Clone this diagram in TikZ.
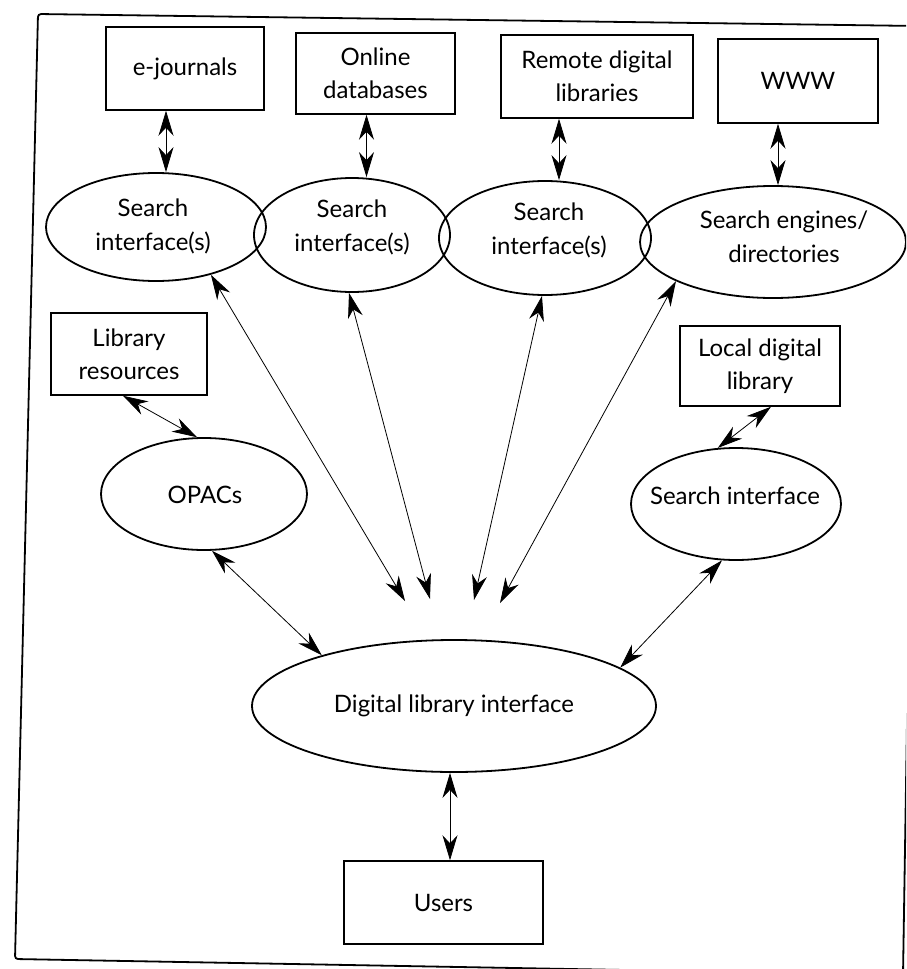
\documentclass[tikz,border=0pt]{standalone}
\usepackage{fontspec}
\setmainfont{Lato}
\usetikzlibrary{shapes.geometric,arrows.meta}
\begin{document}
\begin{tikzpicture}[x=1pt,y=-1pt,
  box/.style={draw, line width=1.5pt, rectangle, inner sep=0pt, align=center,
    font=\fontsize{24}{33}\selectfont},
  oval/.style={draw, line width=1.8pt, ellipse, inner sep=0pt},
  txt/.style={align=center, inner sep=0pt, font=\fontsize{24}{34}\selectfont},
  link/.style={line width=0.8pt, >={Stealth[length=25pt,width=15pt,inset=8pt]}, <->},
  frame/.style={line width=1.8pt, rounded corners=3pt}
]
\useasboundingbox (0,0) rectangle (906,969);
\fill[white] (0,0) rectangle (906,969);
\clip (0,0) rectangle (906,969);

% outer frame
\draw[frame] (38,14) -- (918,26) -- (903,975) -- (15,959) -- cycle;

% sources
\node[box, minimum width=158pt, minimum height=83pt] (ej) at (185,68.5) {e-journals};
\node[box, minimum width=159pt, minimum height=81pt] (odb) at (375.5,73.5) {Online\\databases};
\node[box, minimum width=192pt, minimum height=83pt] (rdl) at (597,76.5) {Remote digital\\libraries};
\node[box, minimum width=160pt, minimum height=84pt] (www) at (798,81) {WWW};
\node[box, minimum width=156pt, minimum height=82pt] (libres) at (129,354) {Library\\resources};
\node[box, minimum width=160pt, minimum height=80pt] (local) at (760,366) {Local digital\\library};
\node[box, minimum width=199pt, minimum height=83pt] (users) at (443.5,902.5) {Users};

% interfaces
\node[oval, minimum width=220pt, minimum height=108pt] (si1) at (156,227) {};
\node[oval, minimum width=196pt, minimum height=114pt] (si2) at (352,235) {};
\node[oval, minimum width=212pt, minimum height=114pt] (si3) at (545,238) {};
\node[oval, minimum width=266pt, minimum height=112pt] (se4) at (773,242) {};
\node[oval, minimum width=206pt, minimum height=112pt] (opacs) at (204,494) {};
\node[oval, minimum width=210pt, minimum height=112pt] (si5) at (736,504) {};
\node[oval, minimum width=404pt, minimum height=132pt] (dli) at (454,706) {};

\node[txt] (si1t) at (153,226) {Search\\interface(s)};
\node[txt] (si2t) at (352,227) {Search\\interface(s)};
\node[txt] (si3t) at (549,230) {Search\\interface(s)};
\node[txt] (se4t) at (784,237) {Search engines/\\directories};
\node[txt] (opacst) at (205,495) {OPACs};
\node[txt] (si5t) at (735,496) {Search interface};
\node[txt] (dlit) at (454,706) {Digital library interface};

% connector end points
\coordinate (a1) at ([xshift=-19pt]ej.south);
\coordinate (a2) at ([xshift=-9pt]odb.south);
\coordinate (a3) at ([xshift=-38pt]rdl.south);
\coordinate (a4) at ([xshift=-20pt]www.south);
\coordinate (b1) at ([xshift=-6pt]libres.south);
\coordinate (b2) at ([xshift=11pt]local.south);
\coordinate (u1) at ([xshift=6.5pt]users.north);
\coordinate (f1) at (405,601);
\coordinate (f2) at (430,599);
\coordinate (f3) at (474,600);
\coordinate (f4) at (500,603);

% connectors
\draw[link] (a1) -- (a1 |- si1.north);
\draw[link] (a2) -- (a2 |- si2.north);
\draw[link] (a3) -- (a3 |- si3.north);
\draw[link] (a4) -- (a4 |- se4.north);
\draw[link] (b1) -- (opacs.97);
\draw[link] (b2) -- (si5.108);
\draw[link] (opacs.-82) -- (dli.159);
\draw[link] (si5.-104) -- (dli.13);
\draw[link] (u1 |- dli.south) -- (u1);
\draw[link] (si1.-41) -- (f1);
\draw[link] (si2.-93) -- (f2);
\draw[link] (si3.-93) -- (f3);
\draw[link] (se4.-158) -- (f4);
\end{tikzpicture}
\end{document}
